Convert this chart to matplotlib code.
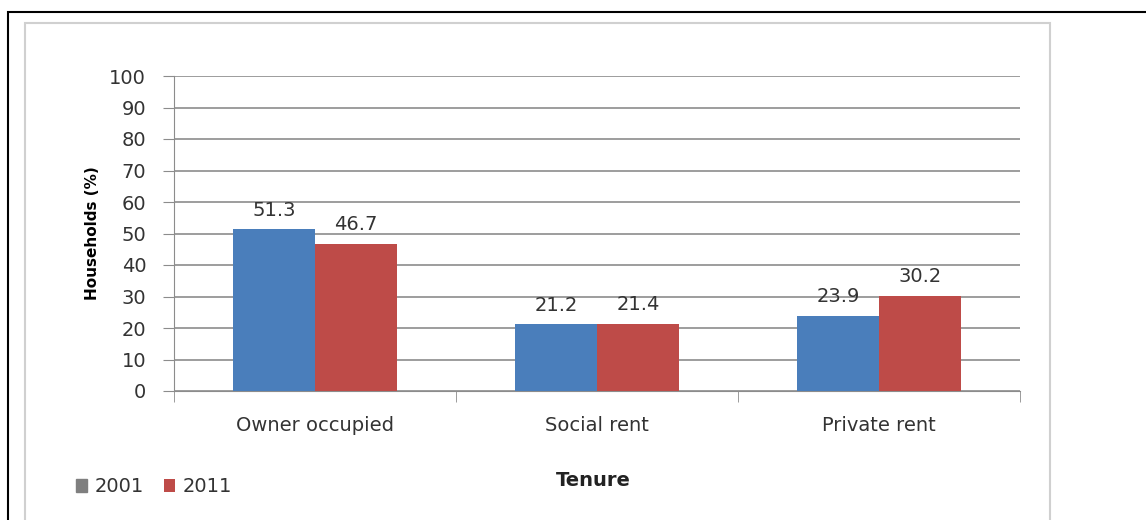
import numpy as np
import matplotlib.pyplot as plt
from matplotlib.patches import Rectangle

categories = ["Owner occupied", "Social rent", "Private rent"]
years = ["2001", "2011"]
values_2001 = [51.3, 21.2, 23.9]
values_2011 = [46.7, 21.4, 30.2]

blue = "#4a7ebb"
red = "#be4b48"
grid_color = "#8c8c8c"
text_color = "#333333"


def main():
    plt.rcParams["font.family"] = "DejaVu Sans"
    fig = plt.figure(figsize=(11.46, 5.2), dpi=100, facecolor="white")
    W, H = 1146, 520

    # outer black border and inner gray frame
    fig.add_artist(Rectangle((8 / W, -0.1), 1.2, (H - 12) / H + 0.1,
                             transform=fig.transFigure, fill=False,
                             edgecolor="black", lw=1.5))
    fig.add_artist(Rectangle((25 / W, -0.1), (1050 - 25) / W, (H - 23) / H + 0.1,
                             transform=fig.transFigure, fill=False,
                             edgecolor="#d0d0d0", lw=1.5))

    ax = fig.add_axes([174 / W, (H - 391) / H, (1020 - 174) / W, (391 - 76) / H])

    x = np.arange(len(categories))
    width = 0.29
    bars1 = ax.bar(x - width / 2, values_2001, width, color=blue, label=years[0], zorder=3)
    bars2 = ax.bar(x + width / 2, values_2011, width, color=red, label=years[1], zorder=3)

    for bars in (bars1, bars2):
        for b in bars:
            ax.text(b.get_x() + b.get_width() / 2, b.get_height() + 3.0,
                    "{:.1f}".format(b.get_height()), ha="center", va="bottom",
                    fontsize=14, color=text_color)

    ax.set_xlim(-0.5, len(categories) - 0.5)
    ax.set_ylim(0, 100)
    ax.set_yticks(range(0, 101, 10))
    ax.tick_params(axis="y", labelsize=14, labelcolor=text_color, color=grid_color,
                   length=8, pad=12)
    ax.set_xticks(x)
    ax.set_xticklabels(categories, fontsize=14, color=text_color)
    ax.tick_params(axis="x", length=0, pad=18)
    ax.set_xticks(np.arange(-0.5, len(categories), 1.0), minor=True)
    ax.tick_params(axis="x", which="minor", length=8, color=grid_color)

    ax.grid(axis="y", color=grid_color, lw=1.2, zorder=0)
    for side in ("top", "right"):
        ax.spines[side].set_visible(False)
    ax.spines["left"].set_color(grid_color)
    ax.spines["bottom"].set_color(grid_color)

    ax.set_ylabel("Households (%)", fontsize=11, fontweight="bold", labelpad=7)
    fig.text(593 / W, 1 - 480 / H, "Tenure", ha="center", va="center",
             fontsize=14, fontweight="bold", color="#222222")

    leg = fig.legend(handles=[bars1, bars2], labels=years, loc="center left",
                     bbox_to_anchor=(58 / W, 1 - 487 / H), ncol=2, frameon=False,
                     fontsize=14, handlelength=0.6, handleheight=0.6,
                     handletextpad=0.4, columnspacing=1.0)
    leg.legend_handles[0].set_color("#7f7f7f")
    for t in leg.get_texts():
        t.set_color(text_color)

    plt.savefig("out.png", dpi=100)


if __name__ == "__main__":
    main()
